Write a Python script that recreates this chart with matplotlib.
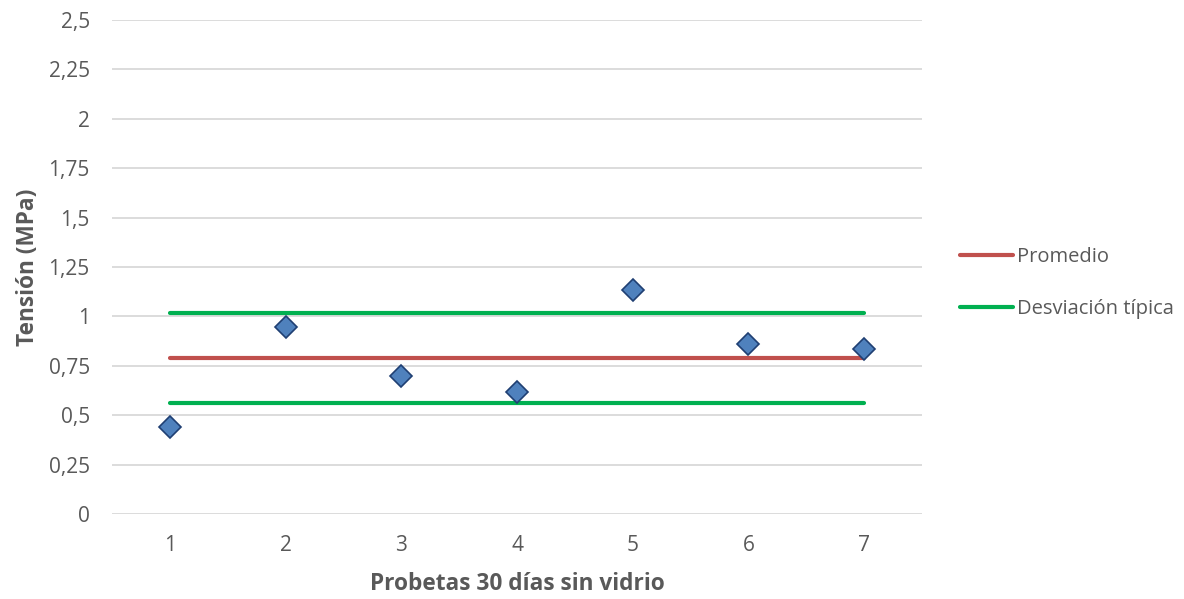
import numpy as np
import matplotlib.pyplot as plt

# ---------------------------------------
# Data: tensile stress per specimen
# ---------------------------------------

probetas = [1, 2, 3, 4, 5, 6, 7]
tension = [0.44, 0.946, 0.70, 0.617, 1.134, 0.86, 0.835]

y_ticks = [0, 0.25, 0.5, 0.75, 1, 1.25, 1.5, 1.75, 2, 2.25, 2.5]
y_tick_labels = ["0", "0,25", "0,5", "0,75", "1", "1,25", "1,5",
                 "1,75", "2", "2,25", "2,5"]

promedio = np.mean(tension)
desviacion = np.std(tension, ddof=1)

# ---------------------------------------
# Plot
# ---------------------------------------

plt.rcParams["font.family"] = ["Open Sans", "DejaVu Sans"]
grey = "#595959"

fig = plt.figure(figsize=(11.84, 5.99), dpi=100)
ax = fig.add_axes([112 / 1184, 85 / 599, 810 / 1184, 494 / 599])

ax.set_xlim(0.5, 7.5)
ax.set_ylim(0, 2.5)
ax.set_yticks(y_ticks)
ax.set_yticklabels(y_tick_labels)
ax.set_xticks(probetas)
ax.grid(axis="y", color="#d9d9d9", linewidth=1.3)
ax.set_axisbelow(True)
for s in ax.spines.values():
    s.set_visible(False)
ax.tick_params(length=0, labelsize=15, labelcolor=grey)
ax.tick_params(axis="y", pad=16)
ax.tick_params(axis="x", pad=15)

x_line = [probetas[0], probetas[-1]]
ax.plot(x_line, [promedio, promedio], color="#c0504d", linewidth=3,
        solid_capstyle="round", label="Promedio", zorder=2)
ax.plot(x_line, [promedio + desviacion] * 2, color="#00b050", linewidth=3,
        solid_capstyle="round", label="Desviación típica", zorder=2)
ax.plot(x_line, [promedio - desviacion] * 2, color="#00b050", linewidth=3,
        solid_capstyle="round", zorder=2)

ax.plot(probetas, tension, linestyle="none", marker="D", markersize=11,
        markerfacecolor="#4f81bd", markeredgecolor="#1f3f73",
        markeredgewidth=1.2, zorder=3)

ax.set_xlabel("Probetas 30 días sin vidrio", fontsize=16.3,
              fontweight="bold", color=grey, labelpad=12)
ax.set_ylabel("Tensión (MPa)", fontsize=16.3, fontweight="bold",
              color=grey, labelpad=6)

leg = ax.legend(loc="center left", bbox_to_anchor=(950 / 1184, 316 / 599),
                bbox_transform=fig.transFigure, frameon=False,
                fontsize=14.5, handlelength=2.65, handletextpad=0.2,
                labelspacing=1.6, borderpad=0)
for t in leg.get_texts():
    t.set_color(grey)

plt.savefig("out.png", dpi=100)
